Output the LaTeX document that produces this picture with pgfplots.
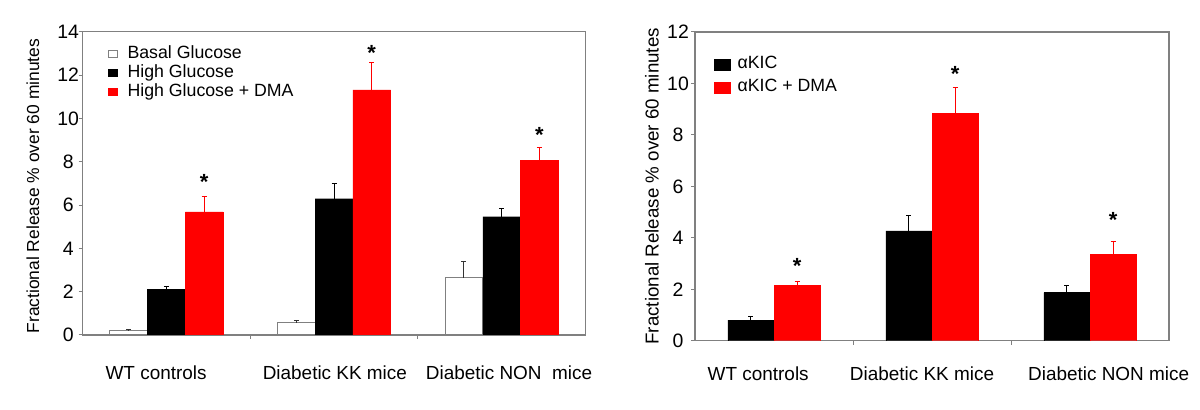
\documentclass[border=0pt]{standalone}
\usepackage{fontspec}
\setmainfont{Liberation Sans}
\usepackage{pgfplots}
\pgfplotsset{compat=1.18}

\definecolor{framegray}{RGB}{128,128,128}
\definecolor{barred}{RGB}{255,0,0}

\pgfplotsset{
  panel/.style={
    scale only axis,
    anchor=south west,
    ybar,
    xmin=-0.5, xmax=2.5, ymin=0,
    axis line style={framegray, line width=1.2bp},
    tick style={framegray, line width=1bp},
    tick align=outside,
    xtick pos=bottom, ytick pos=left,
    major tick length=4bp,
    /pgf/number format/assume math mode=true,
    yticklabel style={font=\fontsize{19.5}{22}\selectfont, anchor=center},
    xticklabel style={font=\fontsize{19}{22}\selectfont, anchor=base},
    x tick style={draw=none},
    extra x ticks={0.5,1.5},
    extra x tick labels={},
    extra x tick style={x tick style={draw=framegray}},
    legend cell align=left,
    legend style={draw=none, fill=none, inner sep=0pt, anchor=north west,
      font=\fontsize{17.8}{20}\selectfont,
      nodes={inner sep=0pt, text height=13bp, text depth=4bp}},
  },
  errs/.style={error bars/.cd, y dir=plus, y explicit,
    error bar style={line width=1bp, #1},
    error mark options={rotate=90, line width=1bp, mark size=2.5bp, #1}},
}

\begin{document}
\begin{tikzpicture}
\useasboundingbox (0,0) rectangle (1200bp,410bp);

% left panel: glucose
\begin{axis}[panel,
  at={(82.7bp,75bp)}, width=502.7bp, height=303.3bp,
  ymax=14, ytick={0,2,...,14},
  yticklabel style={xshift=-10.5bp},
  bar width=0.225,
  xtick={-0.062,1.005,2.044},
  xticklabels={WT controls,Diabetic KK mice,{Diabetic NON\ \ mice}},
  xticklabel style={yshift=-40bp},
  ylabel={Fractional Release \% over 60 minutes},
  ylabel style={at={(axis description cs:-0.099,0.491)}, anchor=center,
    font=\fontsize{17.5}{20}\selectfont},
  legend style={at={(axis description cs:0.05,0.955)}, row sep=2bp, column sep=10bp},
  legend image code/.code={\draw[#1] (0bp,-3.5bp) rectangle (8.5bp,3.5bp);},
]
\addplot[fill=white, draw=framegray, line width=1bp, bar shift=-0.225, errs=black!80]
  coordinates {(0,0.20) +- (0,0.06) (1,0.57) +- (0,0.09) (2,2.65) +- (0,0.75)};
\addlegendentry{Basal Glucose}
\addplot[fill=black, draw=black, bar shift=0, errs=black]
  coordinates {(0,2.11) +- (0,0.12) (1,6.29) +- (0,0.71) (2,5.46) +- (0,0.37)};
\addlegendentry{High Glucose}
\addplot[fill=barred, draw=barred, bar shift=0.225, errs=barred]
  coordinates {(0,5.68) +- (0,0.72) (1,11.31) +- (0,1.27) (2,8.06) +- (0,0.59)};
\addlegendentry{High Glucose + DMA}
\node[anchor=north, inner sep=0pt, yshift=4bp, font=\fontsize{22}{22}\selectfont\bfseries] at (axis cs:0.225,7.23) {*};
\node[anchor=north, inner sep=0pt, yshift=4bp, font=\fontsize{22}{22}\selectfont\bfseries] at (axis cs:1.225,13.18) {*};
\node[anchor=north, inner sep=0pt, yshift=4bp, font=\fontsize{22}{22}\selectfont\bfseries] at (axis cs:2.225,9.42) {*};
\end{axis}

% right panel: alpha-KIC
\begin{axis}[panel,
  at={(695bp,69.3bp)}, width=474bp, height=308.7bp,
  ymax=12, ytick={0,2,...,12},
  yticklabel style={xshift=-13bp},
  bar width=0.292,
  xtick={-0.1,0.937,2.118},
  xticklabels={WT controls,Diabetic KK mice,Diabetic NON mice},
  xticklabel style={yshift=-35.5bp},
  ylabel={Fractional Release \% over 60 minutes},
  ylabel style={at={(axis description cs:-0.091,0.5)}, anchor=center,
    font=\fontsize{18.8}{21}\selectfont},
  legend style={at={(axis description cs:0.04,0.923)}, row sep=6bp, column sep=7bp},
  legend image code/.code={\draw[#1] (0bp,-5.5bp) rectangle (16bp,5.5bp);},
]
\addplot[fill=black, draw=black, bar shift=-0.146, errs=black]
  coordinates {(0,0.80) +- (0,0.16) (1,4.27) +- (0,0.61) (2,1.87) +- (0,0.27)};
\addlegendentry{αKIC}
\addplot[fill=barred, draw=barred, bar shift=0.146, errs=barred]
  coordinates {(0,2.14) +- (0,0.18) (1,8.83) +- (0,1.01) (2,3.35) +- (0,0.52)};
\addlegendentry{αKIC + DMA}
\node[anchor=north, inner sep=0pt, yshift=4bp, font=\fontsize{22}{22}\selectfont\bfseries] at (axis cs:0.146,3.07) {*};
\node[anchor=north, inner sep=0pt, yshift=4bp, font=\fontsize{22}{22}\selectfont\bfseries] at (axis cs:1.146,10.52) {*};
\node[anchor=north, inner sep=0pt, yshift=4bp, font=\fontsize{22}{22}\selectfont\bfseries] at (axis cs:2.146,4.82) {*};
\end{axis}
\end{tikzpicture}
\end{document}
